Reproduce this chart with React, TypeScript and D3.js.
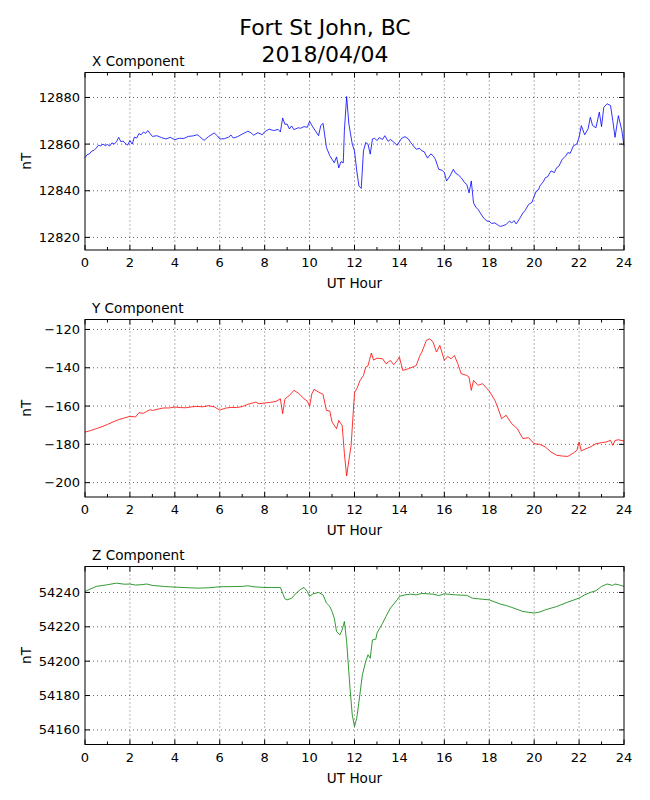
import React from "react";
import * as d3 from "d3";

// X component (nT) vs UT hour
const xHours = [
  0, 0.1, 0.2, 0.3, 0.4, 0.5, 0.6, 0.7, 0.8, 0.9, 1.0, 1.1, 1.2, 1.3, 1.4, 1.5, 1.6, 1.7, 1.8, 1.9,
  2.0, 2.1, 2.2, 2.3, 2.4, 2.5, 2.6, 2.7, 2.8, 2.9, 3.0, 3.2, 3.4, 3.6, 3.8, 4.0, 4.2, 4.4, 4.6, 4.8,
  5.0, 5.1, 5.3, 5.5, 5.75, 5.9, 6.0, 6.2, 6.4, 6.5, 6.6, 6.8, 7.0, 7.25, 7.4, 7.5, 7.7, 7.9, 8.0, 8.2,
  8.4, 8.6, 8.7, 8.8, 8.9, 9.0, 9.1, 9.2, 9.3, 9.5, 9.6, 9.75, 9.9, 10.0, 10.1, 10.25, 10.4, 10.5, 10.6, 10.75,
  10.9, 11.0, 11.1, 11.2, 11.3, 11.4, 11.5, 11.55, 11.65, 11.75, 11.9, 12.0, 12.1, 12.2, 12.3, 12.4, 12.5, 12.6, 12.7, 12.8,
  12.9, 13.0, 13.1, 13.25, 13.35, 13.5, 13.6, 13.75, 13.9, 14.0, 14.1, 14.25, 14.4, 14.5, 14.6, 14.75, 14.9, 15.0, 15.1, 15.25,
  15.4, 15.5, 15.6, 15.75, 15.9, 16.0, 16.1, 16.25, 16.4, 16.5, 16.6, 16.75, 16.9, 17.0, 17.1, 17.2, 17.3, 17.4, 17.5, 17.6,
  17.75, 17.9, 18.0, 18.1, 18.25, 18.4, 18.5, 18.6, 18.75, 18.9, 19.0, 19.1, 19.2, 19.35, 19.5, 19.6, 19.75, 19.9, 20.0, 20.1,
  20.2, 20.25, 20.4, 20.5, 20.6, 20.75, 20.9, 21.0, 21.1, 21.25, 21.4, 21.5, 21.6, 21.75, 21.9, 22.0, 22.1, 22.25, 22.4, 22.5,
  22.6, 22.75, 22.9, 23.0, 23.1, 23.25, 23.4, 23.5, 23.6, 23.75, 23.9, 24.0,
];
const xValues = [
  12854.2, 12855.5, 12855.8, 12857.0, 12857.3, 12858.3, 12859.5, 12859.2, 12860.0, 12859.4, 12859.8, 12859.2, 12860.5, 12860.0, 12861.0, 12862.9, 12861.0, 12861.3, 12860.2, 12859.6,
  12861.5, 12860.0, 12863.0, 12862.6, 12864.5, 12864.0, 12865.2, 12864.6, 12865.8, 12864.5, 12863.3, 12863.6, 12862.8, 12862.2, 12862.9, 12861.9, 12862.5, 12862.4, 12863.3, 12863.5,
  12864.0, 12863.3, 12861.6, 12863.2, 12864.8, 12863.5, 12862.2, 12862.3, 12863.0, 12863.9, 12862.6, 12863.2, 12864.3, 12865.5, 12864.8, 12863.8, 12864.9, 12864.0, 12865.3, 12866.4,
  12865.8, 12866.3, 12865.2, 12871.2, 12868.5, 12868.6, 12866.5, 12867.8, 12866.2, 12867.0, 12866.8, 12867.5, 12867.2, 12869.8, 12868.0, 12865.8, 12863.6, 12868.0, 12868.9, 12858.6,
  12855.0, 12853.5, 12852.0, 12854.5, 12849.8, 12852.5, 12852.0, 12866.0, 12880.4, 12868.6, 12860.0, 12857.0, 12848.5, 12842.0, 12841.0, 12857.1, 12860.7, 12860.0, 12855.7, 12862.2,
  12862.5, 12861.5, 12862.8, 12862.0, 12863.6, 12861.2, 12862.0, 12860.8, 12859.5, 12861.0, 12862.5, 12863.2, 12862.2, 12860.7, 12859.5, 12857.8, 12858.2, 12857.1, 12856.8, 12854.0,
  12855.8, 12855.0, 12853.5, 12849.2, 12848.8, 12847.8, 12844.2, 12846.3, 12849.2, 12847.5, 12847.0, 12845.6, 12843.5, 12842.7, 12839.1, 12844.2, 12834.8, 12833.0, 12832.0, 12830.5,
  12828.3, 12827.0, 12826.9, 12826.0, 12826.2, 12825.2, 12824.7, 12825.0, 12825.5, 12827.0, 12826.2, 12827.2, 12825.8, 12828.0, 12830.5, 12831.6, 12834.1, 12835.0, 12837.7, 12839.9,
  12840.5, 12842.0, 12843.8, 12845.6, 12846.0, 12848.5, 12847.8, 12849.9, 12850.5, 12853.5, 12854.8, 12856.4, 12856.0, 12859.3, 12860.0, 12862.9, 12867.9, 12864.0, 12866.5, 12871.5,
  12868.0, 12867.0, 12873.7, 12867.5, 12875.8, 12877.3, 12876.5, 12870.1, 12862.9, 12872.2, 12866.0, 12859.3,
];

// Y component (nT)
const yHours = [
  0, 0.25, 0.5, 0.75, 1.0, 1.25, 1.5, 1.75, 2.0, 2.25, 2.4, 2.6, 2.75, 2.9, 3.0, 3.25, 3.5, 3.75, 4.0, 4.25,
  4.5, 4.75, 5.0, 5.25, 5.5, 5.75, 6.0, 6.25, 6.5, 6.75, 7.0, 7.25, 7.5, 7.6, 7.75, 8.0, 8.25, 8.5, 8.7, 8.8,
  8.9, 9.0, 9.1, 9.3, 9.5, 9.75, 9.9, 10.0, 10.1, 10.2, 10.4, 10.6, 10.75, 10.9, 11.0, 11.2, 11.3, 11.45, 11.55, 11.65,
  11.75, 11.85, 12.0, 12.1, 12.25, 12.4, 12.5, 12.6, 12.75, 12.85, 13.0, 13.25, 13.4, 13.6, 13.75, 13.9, 14.0, 14.15, 14.4, 14.6,
  14.75, 14.9, 15.0, 15.2, 15.35, 15.5, 15.65, 15.8, 16.0, 16.15, 16.3, 16.45, 16.6, 16.75, 17.0, 17.1, 17.2, 17.3, 17.5, 17.7,
  17.9, 18.0, 18.25, 18.4, 18.55, 18.75, 19.0, 19.25, 19.5, 19.75, 20.0, 20.25, 20.5, 20.75, 21.0, 21.25, 21.5, 21.75, 21.9, 22.0,
  22.1, 22.3, 22.5, 22.75, 23.0, 23.2, 23.4, 23.5, 23.6, 23.75, 24.0,
];
const yValues = [
  -173.6, -172.8, -171.8, -170.8, -169.6, -168.3, -167.1, -166.2, -165.4, -165.7, -163.5, -163.8, -162.8, -161.9, -162.3, -161.6, -161.0, -161.0, -160.5, -160.8,
  -160.9, -160.4, -160.2, -160.4, -159.8, -160.4, -162.1, -161.1, -160.7, -160.8, -160.3, -159.1, -158.3, -158.0, -158.8, -158.4, -158.1, -157.6, -156.2, -164.0,
  -156.5, -155.3, -154.5, -151.8, -153.2, -156.2, -157.4, -160.2, -153.6, -151.3, -152.7, -153.9, -162.3, -162.6, -168.3, -171.8, -167.5, -170.1, -184.9, -196.5,
  -188.3, -180.5, -153.0, -151.0, -146.6, -144.0, -139.7, -139.0, -132.3, -136.0, -135.0, -135.3, -137.9, -136.2, -138.4, -136.2, -134.4, -141.4, -140.5, -139.6,
  -138.8, -134.0, -131.8, -125.7, -124.9, -126.6, -131.8, -128.3, -136.2, -134.1, -135.3, -133.6, -137.9, -143.1, -144.0, -144.9, -151.8, -146.6, -149.2, -148.3,
  -150.9, -152.2, -157.0, -161.4, -166.6, -164.8, -169.2, -171.8, -177.0, -176.5, -179.7, -180.0, -181.4, -184.0, -185.7, -186.1, -186.3, -184.5, -183.2, -178.8,
  -183.5, -182.3, -181.4, -179.7, -179.1, -178.8, -177.9, -180.5, -178.0, -177.6, -178.3,
];

// Z component (nT)
const zHours = [
  0, 0.5, 1.0, 1.4, 1.75, 2.0, 2.25, 2.5, 2.75, 3.0, 3.5, 4.0, 4.5, 5.0, 5.5, 6.0, 6.5, 7.0, 7.25, 7.5,
  8.0, 8.5, 8.7, 8.8, 8.9, 9.0, 9.2, 9.4, 9.6, 9.75, 9.9, 10.0, 10.15, 10.4, 10.6, 10.75, 10.9, 11.0, 11.1, 11.2,
  11.35, 11.45, 11.55, 11.65, 11.8, 11.9, 12.0, 12.1, 12.2, 12.35, 12.5, 12.6, 12.7, 12.8, 12.95, 13.0, 13.25, 13.4, 13.6, 13.9,
  14.0, 14.25, 14.5, 14.75, 15.0, 15.5, 15.75, 16.0, 16.5, 17.0, 17.25, 17.5, 18.0, 18.5, 18.75, 19.0, 19.5, 20.0, 20.25, 20.5,
  21.0, 21.5, 22.0, 22.25, 22.5, 22.75, 23.0, 23.25, 23.5, 23.6, 23.75, 24.0,
];
const zValues = [
  54240.6, 54243.5, 54244.5, 54245.4, 54244.8, 54244.9, 54244.3, 54244.5, 54244.9, 54244.1, 54243.5, 54243.1, 54242.8, 54242.5, 54242.7, 54243.3, 54243.4, 54243.5, 54243.9, 54243.3,
  54242.9, 54242.9, 54242.9, 54239.6, 54236.3, 54235.7, 54236.6, 54239.5, 54241.8, 54242.9, 54240.6, 54237.7, 54239.2, 54240.0, 54238.6, 54233.8, 54231.9, 54228.9, 54225.0, 54217.3,
  54215.3, 54218.2, 54223.1, 54211.5, 54184.3, 54168.7, 54162.0, 54166.8, 54176.5, 54192.0, 54199.8, 54203.7, 54201.7, 54212.4, 54212.8, 54216.3, 54222.1, 54226.0, 54230.9, 54235.7,
  54237.7, 54238.6, 54239.0, 54238.6, 54239.4, 54239.0, 54238.2, 54239.2, 54238.6, 54238.3, 54236.7, 54236.3, 54235.7, 54233.2, 54232.4, 54231.3, 54228.9, 54228.0, 54228.6, 54229.9,
  54231.8, 54234.4, 54236.7, 54238.6, 54240.0, 54241.0, 54243.5, 54244.9, 54244.1, 54244.9, 54244.5, 54243.5,
];

const titleLines = ["Fort St John, BC", "2018/04/04"];
const hourTicks = d3.range(0, 25, 2);
const hourMinor = d3.range(1, 24, 2);

const W = 650;
const H = 800;
const LEFT = 85;
const RIGHT = 624;
const FONT = "DejaVu Sans, sans-serif";

interface PanelDef {
  title: string;
  hours: number[];
  values: number[];
  domain: [number, number];
  color: string;
  top: number;
  bottom: number;
}

const panels: PanelDef[] = [
  { title: "X Component", hours: xHours, values: xValues, domain: [12814.6, 12890.7], color: "#0000ff", top: 72.5, bottom: 250 },
  { title: "Y Component", hours: yHours, values: yValues, domain: [-207.5, -114.8], color: "#ff0000", top: 319.5, bottom: 497 },
  { title: "Z Component", hours: zHours, values: zValues, domain: [54151.5, 54255.1], color: "#008000", top: 566.5, bottom: 744.5 },
];

const x = d3.scaleLinear().domain([0, 24]).range([LEFT, RIGHT]);
const fmt = d3.format("d");

const Panel: React.FC<{ p: PanelDef }> = ({ p }) => {
  const y = d3.scaleLinear().domain(p.domain).range([p.bottom, p.top]);
  const yTicks = y.ticks(5);
  const pts: [number, number][] = p.hours.map((h, i) => [h, p.values[i]]);
  const line = d3
    .line<[number, number]>()
    .x((d) => x(d[0]))
    .y((d) => y(d[1]));
  const midY = (p.top + p.bottom) / 2;

  return (
    <g>
      {/* grid */}
      {hourTicks.slice(1, -1).map((h) => (
        <line key={"gx" + h} x1={x(h)} x2={x(h)} y1={p.top} y2={p.bottom}
          stroke="#000" strokeWidth={0.6} strokeDasharray="1,3" />
      ))}
      {yTicks.map((t) => (
        <line key={"gy" + t} x1={LEFT} x2={RIGHT} y1={y(t)} y2={y(t)}
          stroke="#000" strokeWidth={0.6} strokeDasharray="1,3" />
      ))}

      {/* data */}
      <path d={line(pts) || ""} fill="none" stroke={p.color} strokeWidth={0.8} />

      {/* ticks */}
      {hourTicks.map((h) => (
        <g key={"tx" + h}>
          <line x1={x(h)} x2={x(h)} y1={p.bottom} y2={p.bottom - 5} stroke="#000" />
          <line x1={x(h)} x2={x(h)} y1={p.top} y2={p.top + 5} stroke="#000" />
          <text x={x(h)} y={p.bottom + 17} textAnchor="middle" fontSize={13} fontFamily={FONT}>{h}</text>
        </g>
      ))}
      {hourMinor.map((h) => (
        <g key={"mx" + h}>
          <line x1={x(h)} x2={x(h)} y1={p.bottom} y2={p.bottom - 3} stroke="#000" />
          <line x1={x(h)} x2={x(h)} y1={p.top} y2={p.top + 3} stroke="#000" />
        </g>
      ))}
      {yTicks.map((t) => (
        <g key={"ty" + t}>
          <line x1={LEFT} x2={LEFT + 5} y1={y(t)} y2={y(t)} stroke="#000" />
          <line x1={RIGHT} x2={RIGHT - 5} y1={y(t)} y2={y(t)} stroke="#000" />
          <text x={LEFT - 5} y={y(t)} dy="0.35em" textAnchor="end" fontSize={13} fontFamily={FONT}>{fmt(t)}</text>
        </g>
      ))}

      {/* frame */}
      <rect x={LEFT} y={p.top} width={RIGHT - LEFT} height={p.bottom - p.top} fill="none" stroke="#000" strokeWidth={1} />

      {/* labels */}
      <text x={LEFT + 7} y={p.top - 7} fontSize={13.6} fontFamily={FONT}>{p.title}</text>
      <text x={(LEFT + RIGHT) / 2} y={p.bottom + 38} textAnchor="middle" fontSize={13.6} fontFamily={FONT}>UT Hour</text>
      <text transform={`translate(31,${midY}) rotate(-90)`} textAnchor="middle" fontSize={13.6} fontFamily={FONT}>nT</text>
    </g>
  );
};

export default function App() {
  return (
    <div style={{ position: "absolute", left: 0, top: 0 }}>
      <svg width={W} height={H} style={{ display: "block", background: "#fff" }}>
        {titleLines.map((t, i) => (
          <text key={t} x={W / 2} y={34.5 + i * 27} textAnchor="middle" fontSize={22} fontFamily={FONT}>{t}</text>
        ))}
        {panels.map((p) => (
          <Panel key={p.title} p={p} />
        ))}
      </svg>
    </div>
  );
}
